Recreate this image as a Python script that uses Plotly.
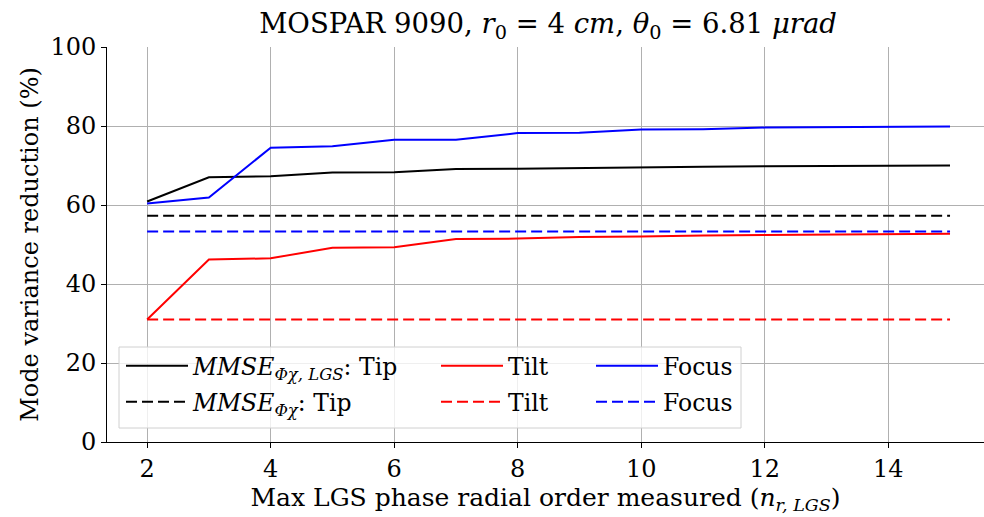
import plotly.graph_objects as go

x_orders = [2, 3, 4, 5, 6, 7, 8, 9, 10, 11, 12, 13, 14, 15]
tip_lgs = [60.9, 67.0, 67.3, 68.2, 68.3, 69.1, 69.2, 69.4, 69.5, 69.7, 69.8, 69.9, 69.9, 70.0]
tilt_lgs = [31.0, 46.2, 46.5, 49.2, 49.3, 51.4, 51.5, 51.9, 52.0, 52.3, 52.4, 52.5, 52.6, 52.7]
focus_lgs = [60.4, 61.9, 74.5, 74.9, 76.5, 76.5, 78.2, 78.3, 79.1, 79.2, 79.6, 79.7, 79.9, 79.9]
tip_ref = [57.3] * 14
tilt_ref = [31.0] * 14
focus_ref = [53.3] * 14

FONT = "DejaVu Serif"
lgs_name = "<i>MMSE</i><sub><i>Φχ, LGS</i></sub>: Tip"
ref_name = "<i>MMSE</i><sub><i>Φχ</i></sub>: Tip"
DASH = "11px,5px"

series = [
    (tip_lgs, "black", "solid", lgs_name, "legend"),
    (tilt_lgs, "red", "solid", "Tilt", "legend2"),
    (focus_lgs, "blue", "solid", "Focus", "legend3"),
    (tip_ref, "black", DASH, ref_name, "legend4"),
    (tilt_ref, "red", DASH, "Tilt", "legend5"),
    (focus_ref, "blue", DASH, "Focus", "legend6"),
]

fig = go.Figure()
for ys, col, dash, name, lg in series:
    fig.add_trace(go.Scatter(x=x_orders, y=ys, mode="lines", name=name,
                             line=dict(color=col, width=2, dash=dash),
                             legend=lg, showlegend=True))

L, R, T, B = 107, 0, 47, 75
W, H = 984, 517
pw, ph = W - L - R, H - T - B

def px(v):
    return (v - L) / pw

def py(v):
    return (H - B - v) / ph

legend_pos = {
    "legend": (121, 366), "legend2": (436, 366), "legend3": (591, 366),
    "legend4": (121, 402), "legend5": (436, 402), "legend6": (591, 402),
}
lay = {}
for k, (lx, ly) in legend_pos.items():
    lay[k] = dict(x=px(lx), y=py(ly), xanchor="left", yanchor="middle", visible=True,
                  itemwidth=62, bgcolor="rgba(0,0,0,0)",
                  font=dict(family=FONT, size=23.5, color="black"))

fig.update_layout(
    width=W, height=H, showlegend=True,
    margin=dict(l=L, r=R, t=T, b=B, autoexpand=False),
    plot_bgcolor="white", paper_bgcolor="white",
    title=dict(text="MOSPAR 9090, <i>r</i><sub>0</sub> = 4 <i>cm</i>, <i>θ</i><sub>0</sub> = 6.81 <i>μrad</i>",
               x=0.557, xanchor="center", y=0.955, yanchor="middle",
               font=dict(family=FONT, size=27.5, color="black")),
    xaxis=dict(range=[1.35, 15.55], tickvals=[2, 4, 6, 8, 10, 12, 14],
               showgrid=True, gridcolor="#b0b0b0", gridwidth=1,
               showline=True, linecolor="black", linewidth=1,
               ticks="outside", ticklen=5, tickcolor="black",
               tickfont=dict(family=FONT, size=24, color="black"),
               title=dict(text="Max LGS phase radial order measured (<i>n</i><sub><i>r, LGS</i></sub>)",
                          font=dict(family=FONT, size=25, color="black"), standoff=4),
               zeroline=False, automargin=False),
    yaxis=dict(range=[0, 100], tickvals=[0, 20, 40, 60, 80, 100],
               showgrid=True, gridcolor="#b0b0b0", gridwidth=1,
               showline=True, linecolor="black", linewidth=1,
               ticks="outside", ticklen=5, tickcolor="black",
               tickfont=dict(family=FONT, size=24, color="black"),
               title=dict(text="Mode variance reduction (%)",
                          font=dict(family=FONT, size=24, color="black"), standoff=4),
               zeroline=False, automargin=False),
    shapes=[dict(type="rect", xref="paper", yref="paper",
                 x0=px(119), x1=px(741), y0=py(428), y1=py(347),
                 line=dict(color="#d0d0d0", width=1),
                 fillcolor="rgba(255,255,255,0.8)", layer="above")],
    **lay,
)

fig.write_html("out.html", config={"displayModeBar": False},
               post_script="document.body.style.margin='0';document.body.style.padding='0';")
